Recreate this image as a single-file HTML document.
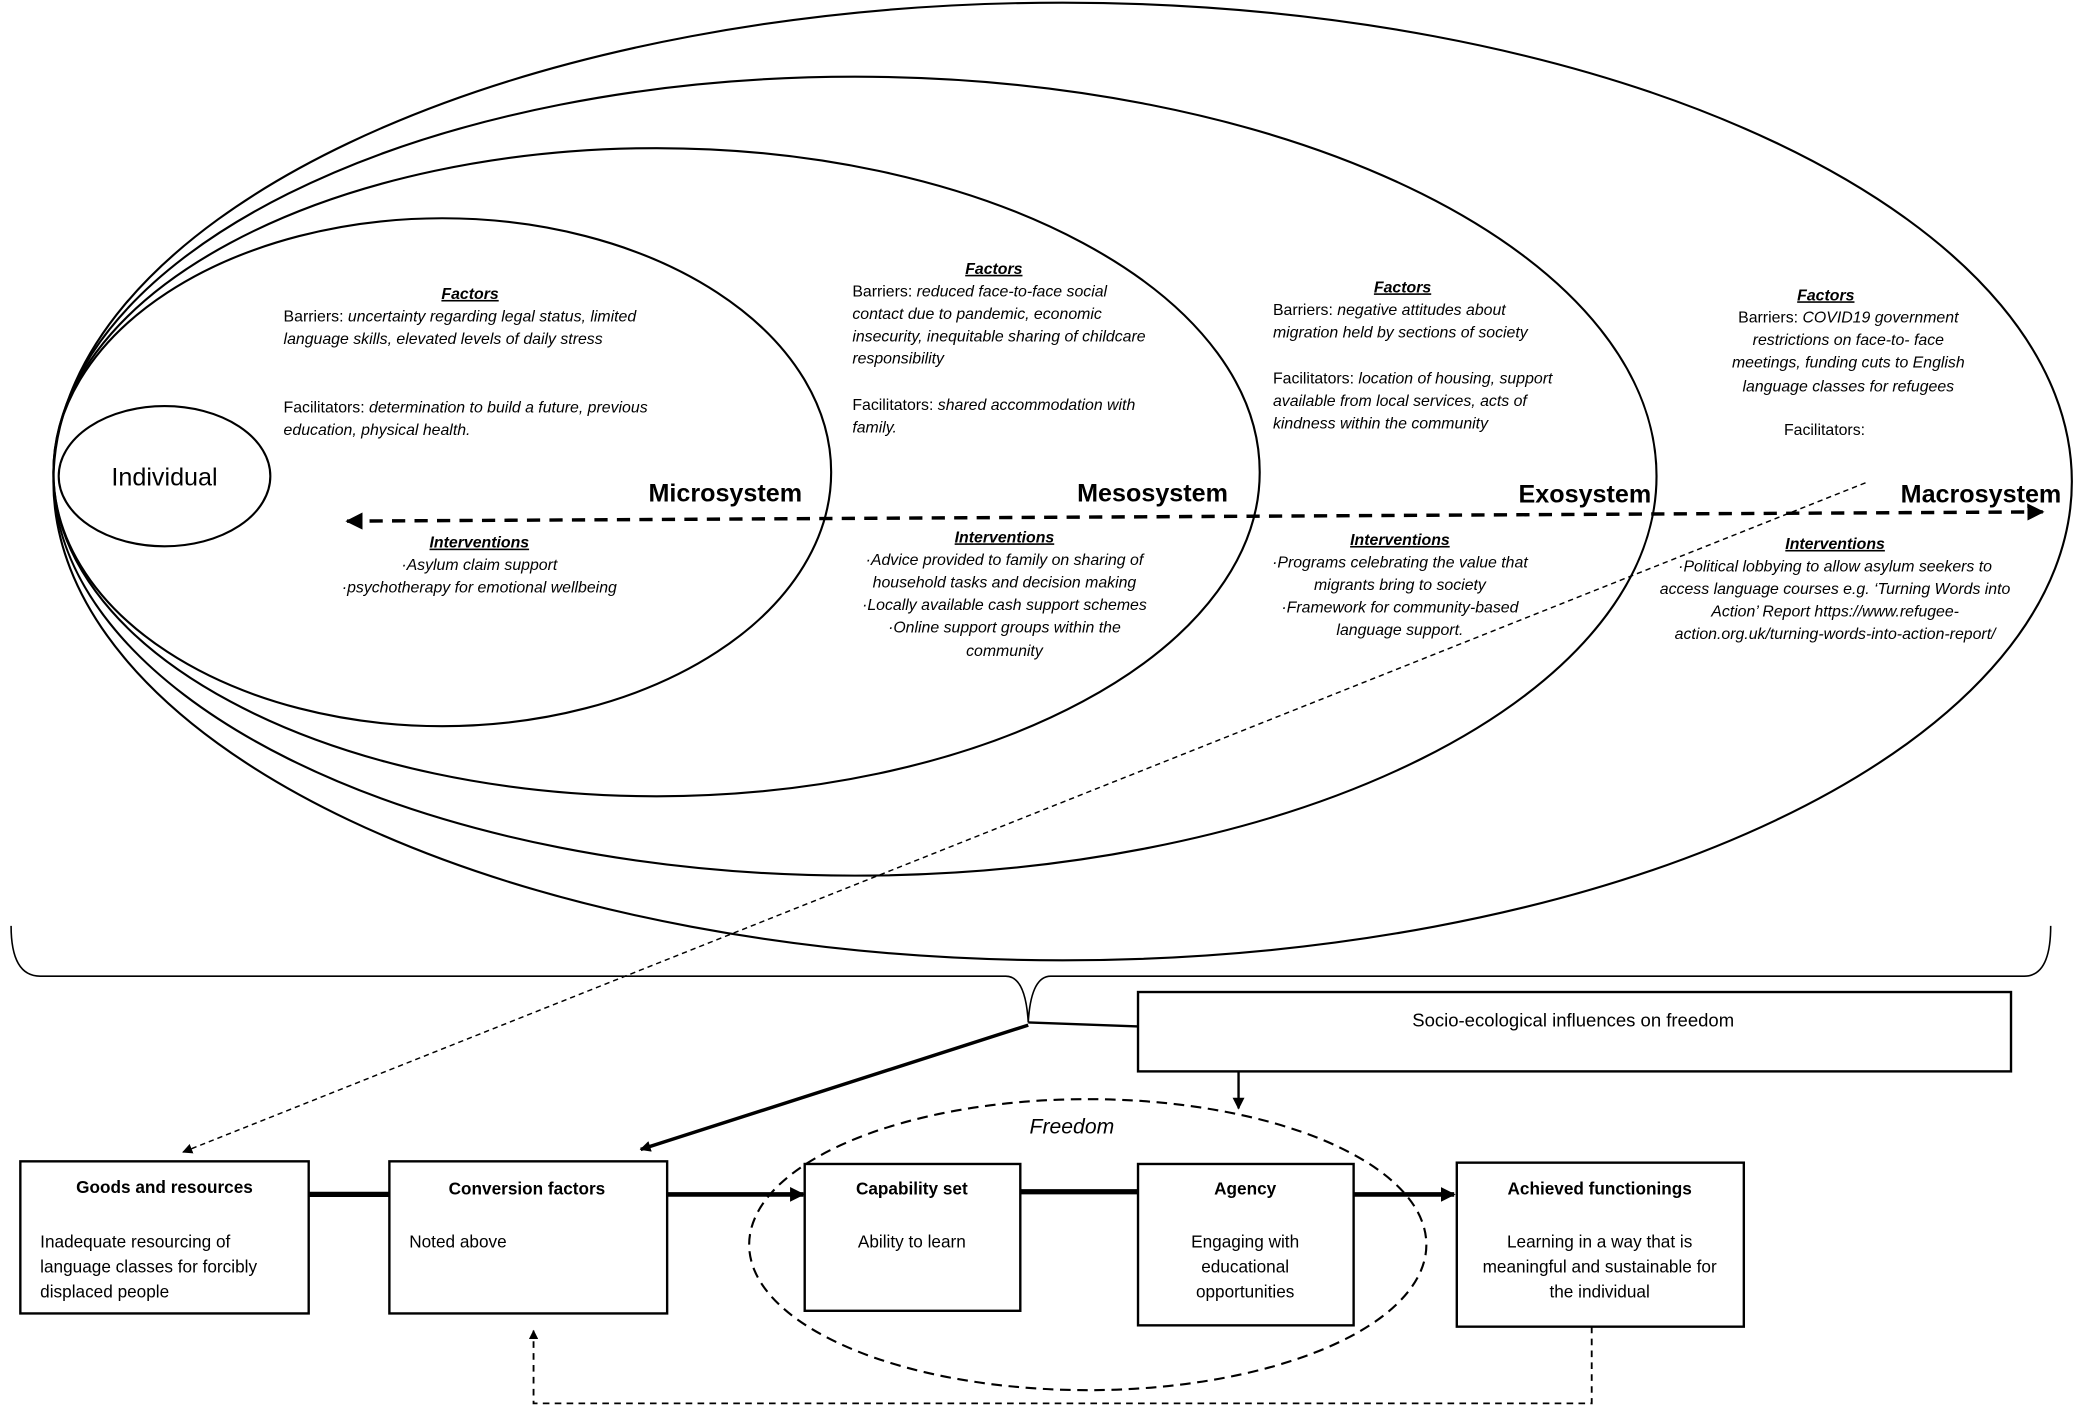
<!DOCTYPE html>
<html><head><meta charset="utf-8"><style>
html,body{margin:0;padding:0;background:#fff;}
svg{display:block;}
text{font-family:"Liberation Sans",sans-serif;fill:#000;}
.t{font-size:12px;}
.i{font-style:italic;}
.h{font-size:12px;font-weight:bold;font-style:italic;text-decoration:underline;}
.big{font-size:19px;font-weight:bold;}
.bx{font-size:13px;}
.bb{font-size:13px;font-weight:bold;}
</style></head><body>
<svg width="2075" height="1410" viewBox="0 0 1568 1066" xmlns="http://www.w3.org/2000/svg">
<defs>
<marker id="ah" viewBox="0 0 10 10" refX="9" refY="5" markerWidth="5" markerHeight="5" orient="auto-start-reverse"><path d="M0,0 L10,5 L0,10 z" fill="#000"/></marker>
<marker id="as" viewBox="0 0 10 10" refX="9" refY="5" markerWidth="7" markerHeight="7" orient="auto"><path d="M0,0 L10,5 L0,10 z" fill="#000"/></marker>
<marker id="at" viewBox="0 0 10 10" refX="9" refY="5" markerWidth="3.2" markerHeight="3.2" orient="auto"><path d="M0,0 L10,5 L0,10 z" fill="#000"/></marker>
</defs>
<g fill="none" stroke="#000" stroke-width="1.6">
<ellipse cx="803" cy="364" rx="763" ry="362"/>
<ellipse cx="646" cy="360" rx="606" ry="302"/>
<ellipse cx="496" cy="357" rx="456" ry="245"/>
<ellipse cx="334" cy="357" rx="294" ry="192"/>
<ellipse cx="124" cy="360" rx="80" ry="53"/>
</g>
<text x="124" y="367" text-anchor="middle" style="font-size:19px">Individual</text>

<line x1="262" y1="394" x2="1544" y2="387" stroke="#000" stroke-width="2.6" stroke-dasharray="10,7" marker-start="url(#ah)" marker-end="url(#ah)"/>
<line x1="1410" y1="365" x2="138" y2="871" stroke="#000" stroke-width="1.1" stroke-dasharray="4,3" marker-end="url(#as)"/>

<text class="h" x="355" y="226" text-anchor="middle">Factors</text>
<text class="t" x="214" y="243">Barriers: <tspan class="i">uncertainty regarding legal status, limited</tspan></text>
<text class="t i" x="214" y="260">language skills, elevated levels of daily stress</text>
<text class="t" x="214" y="312">Facilitators: <tspan class="i">determination to build a future, previous</tspan></text>
<text class="t i" x="214" y="329">education, physical health.</text>
<text class="big" x="606" y="379" text-anchor="end">Microsystem</text>
<text class="h" x="362" y="414" text-anchor="middle">Interventions</text>
<text class="t i" x="362" y="431" text-anchor="middle">·Asylum claim support</text>
<text class="t i" x="362" y="448" text-anchor="middle">·psychotherapy for emotional wellbeing</text>

<text class="h" x="751" y="207" text-anchor="middle">Factors</text>
<text class="t" x="644" y="224">Barriers: <tspan class="i">reduced face-to-face social</tspan></text>
<text class="t i" x="644" y="241">contact due to pandemic, economic</text>
<text class="t i" x="644" y="258">insecurity, inequitable sharing of childcare</text>
<text class="t i" x="644" y="275">responsibility</text>
<text class="t" x="644" y="310">Facilitators: <tspan class="i">shared accommodation with</tspan></text>
<text class="t i" x="644" y="327">family.</text>
<text class="big" x="928" y="379" text-anchor="end">Mesosystem</text>
<text class="h" x="759" y="410" text-anchor="middle">Interventions</text>
<text class="t i" x="759" y="427" text-anchor="middle">·Advice provided to family on sharing of</text>
<text class="t i" x="759" y="444" text-anchor="middle">household tasks and decision making</text>
<text class="t i" x="759" y="461" text-anchor="middle">·Locally available cash support schemes</text>
<text class="t i" x="759" y="478" text-anchor="middle">·Online support groups within the</text>
<text class="t i" x="759" y="496" text-anchor="middle">community</text>

<text class="h" x="1060" y="221" text-anchor="middle">Factors</text>
<text class="t" x="962" y="238">Barriers: <tspan class="i">negative attitudes about</tspan></text>
<text class="t i" x="962" y="255">migration held by sections of society</text>
<text class="t" x="962" y="290">Facilitators: <tspan class="i">location of housing, support</tspan></text>
<text class="t i" x="962" y="307">available from local services, acts of</text>
<text class="t i" x="962" y="324">kindness within the community</text>
<text class="big" x="1248" y="380" text-anchor="end">Exosystem</text>
<text class="h" x="1058" y="412" text-anchor="middle">Interventions</text>
<text class="t i" x="1058" y="429" text-anchor="middle">·Programs celebrating the value that</text>
<text class="t i" x="1058" y="446" text-anchor="middle">migrants bring to society</text>
<text class="t i" x="1058" y="463" text-anchor="middle">·Framework for community-based</text>
<text class="t i" x="1058" y="480" text-anchor="middle">language support.</text>

<text class="h" x="1380" y="227" text-anchor="middle">Factors</text>
<text class="t" x="1397" y="244" text-anchor="middle">Barriers: <tspan class="i">COVID19 government</tspan></text>
<text class="t i" x="1397" y="261" text-anchor="middle">restrictions on face-to- face</text>
<text class="t i" x="1397" y="278" text-anchor="middle">meetings, funding cuts to English</text>
<text class="t i" x="1397" y="296" text-anchor="middle">language classes for refugees</text>
<text class="t" x="1379" y="329" text-anchor="middle">Facilitators:</text>
<text class="big" x="1558" y="380" text-anchor="end">Macrosystem</text>
<text class="h" x="1387" y="415" text-anchor="middle">Interventions</text>
<text class="t i" x="1387" y="432" text-anchor="middle">·Political lobbying to allow asylum seekers to</text>
<text class="t i" x="1387" y="449" text-anchor="middle">access language courses e.g. ‘Turning Words into</text>
<text class="t i" x="1387" y="466" text-anchor="middle">Action’ Report https://www.refugee-</text>
<text class="t i" x="1387" y="483" text-anchor="middle">action.org.uk/turning-words-into-action-report/</text>

<path d="M8,700 Q8,738 30,738 L760,738 Q775,738 777,773 Q779,738 794,738 L1530,738 Q1550,738 1550,700" fill="none" stroke="#000" stroke-width="1.2"/>
<line x1="777" y1="773" x2="860" y2="776" stroke="#000" stroke-width="1.8"/>
<rect x="860" y="750" width="660" height="60" fill="#fff" stroke="#000" stroke-width="1.8"/>
<text class="bx" x="1189" y="776" text-anchor="middle" style="font-size:14px">Socio-ecological influences on freedom</text>
<line x1="936" y1="810" x2="936" y2="838" stroke="#000" stroke-width="1.8" marker-end="url(#ah)"/>
<line x1="777" y1="775" x2="484" y2="869" stroke="#000" stroke-width="2.6" marker-end="url(#at)"/>

<ellipse cx="822" cy="941" rx="256" ry="110" fill="none" stroke="#000" stroke-width="1.6" stroke-dasharray="8,5"/>
<text x="810" y="857" text-anchor="middle" style="font-size:16px;font-style:italic">Freedom</text>

<g fill="#fff" stroke="#000" stroke-width="1.8">
<rect x="15" y="878" width="218" height="115"/>
<rect x="294" y="878" width="210" height="115"/>
<rect x="608" y="880" width="163" height="111"/>
<rect x="860" y="880" width="163" height="122"/>
<rect x="1101" y="879" width="217" height="124"/>
</g>
<text class="bb" x="124" y="902" text-anchor="middle">Goods and resources</text>
<text class="bx" x="30" y="943">Inadequate resourcing of</text>
<text class="bx" x="30" y="962">language classes for forcibly</text>
<text class="bx" x="30" y="981">displaced people</text>
<text class="bb" x="398" y="903" text-anchor="middle">Conversion factors</text>
<text class="bx" x="309" y="943">Noted above</text>
<text class="bb" x="689" y="903" text-anchor="middle">Capability set</text>
<text class="bx" x="689" y="943" text-anchor="middle">Ability to learn</text>
<text class="bb" x="941" y="903" text-anchor="middle">Agency</text>
<text class="bx" x="941" y="943" text-anchor="middle">Engaging with</text>
<text class="bx" x="941" y="962" text-anchor="middle">educational</text>
<text class="bx" x="941" y="981" text-anchor="middle">opportunities</text>
<text class="bb" x="1209" y="903" text-anchor="middle">Achieved functionings</text>
<text class="bx" x="1209" y="943" text-anchor="middle">Learning in a way that is</text>
<text class="bx" x="1209" y="962" text-anchor="middle">meaningful and sustainable for</text>
<text class="bx" x="1209" y="981" text-anchor="middle">the individual</text>

<g stroke="#000" stroke-width="4">
<line x1="233" y1="903" x2="294" y2="903"/>
<line x1="504" y1="903" x2="607" y2="903" marker-end="url(#at)" stroke-width="3.5"/>
<line x1="771" y1="901" x2="860" y2="901"/>
<line x1="1023" y1="903" x2="1099" y2="903" marker-end="url(#at)" stroke-width="3.5"/>
</g>
<polyline points="1203,1003 1203,1061 403,1061 403,1006" fill="none" stroke="#000" stroke-width="1.4" stroke-dasharray="5,4" marker-end="url(#ah)"/>
</svg>
</body></html>
